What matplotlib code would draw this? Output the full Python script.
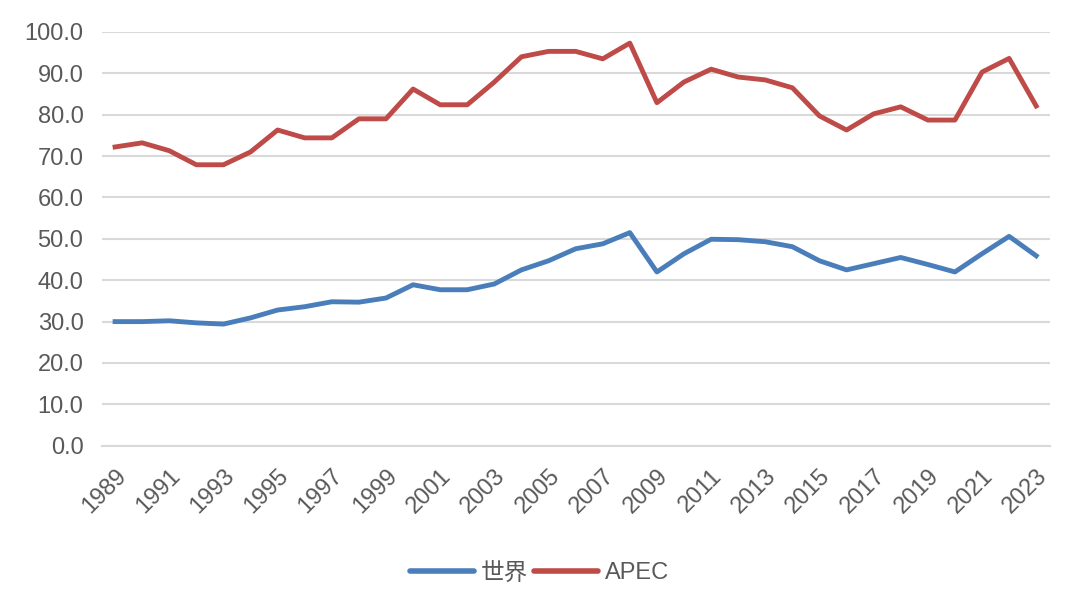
import matplotlib
matplotlib.use("Agg")
import matplotlib.pyplot as plt

plt.rcParams["font.family"] = ["Liberation Sans", "Noto Sans CJK SC", "DejaVu Sans"]

years = list(range(1989, 2024))
world = [30.0, 30.0, 30.2, 29.7, 29.4, 30.9, 32.8, 33.6, 34.8, 34.7, 35.7,
         38.9, 37.7, 37.7, 39.1, 42.5, 44.7, 47.6, 48.8, 51.5, 42.0,
         46.4, 49.9, 49.8, 49.3, 48.1, 44.7, 42.5, 44.0, 45.5, 43.8,
         42.0, 46.4, 50.6, 45.9]
apec = [72.2, 73.2, 71.3, 67.9, 67.9, 71.0, 76.3, 74.4, 74.4, 79.0, 79.0,
        86.2, 82.4, 82.4, 87.9, 94.0, 95.3, 95.3, 93.5, 97.3, 82.9,
        87.9, 91.0, 89.1, 88.4, 86.5, 79.7, 76.3, 80.2, 81.9, 78.7,
        78.7, 90.3, 93.6, 82.1]
yticks = [0, 10, 20, 30, 40, 50, 60, 70, 80, 90, 100]

fig = plt.figure(figsize=(10.8, 6.14), dpi=100)
ax = fig.add_axes([0.094, 0.274, 0.878, 0.674])

ax.plot(years, world, color="#4a7ebb", lw=3.5, label="世界")
ax.plot(years, apec, color="#be4b48", lw=3.5, label="APEC")

ax.set_xlim(1988.5, 2023.5)
ax.set_ylim(0, 100)
ax.set_yticks(yticks)
ax.set_yticklabels([f"{v:.1f}" for v in yticks])
ax.set_xticks(years[::2])
ax.set_xticklabels([str(y) for y in years[::2]], rotation=45, ha="right",
                   rotation_mode="anchor")
ax.grid(axis="y", color="#d9d9d9", lw=1.5)
ax.set_axisbelow(True)
for s in ["top", "right", "left"]:
    ax.spines[s].set_visible(False)
ax.spines["bottom"].set_color("#d9d9d9")
ax.spines["bottom"].set_linewidth(1.5)
ax.tick_params(axis="both", length=0, labelsize=17, colors="#595959")
ax.tick_params(axis="y", pad=13)
ax.tick_params(axis="x", pad=14)

leg = ax.legend(loc="center", bbox_to_anchor=(0.462, -0.308), ncol=2, frameon=False,
                fontsize=17, handlelength=2.7, columnspacing=0.25, handletextpad=0.3,
                labelcolor="#595959")
for h in leg.get_lines():
    h.set_solid_capstyle("round")
    h.set_linewidth(4)

fig.savefig("out.png", dpi=100)
